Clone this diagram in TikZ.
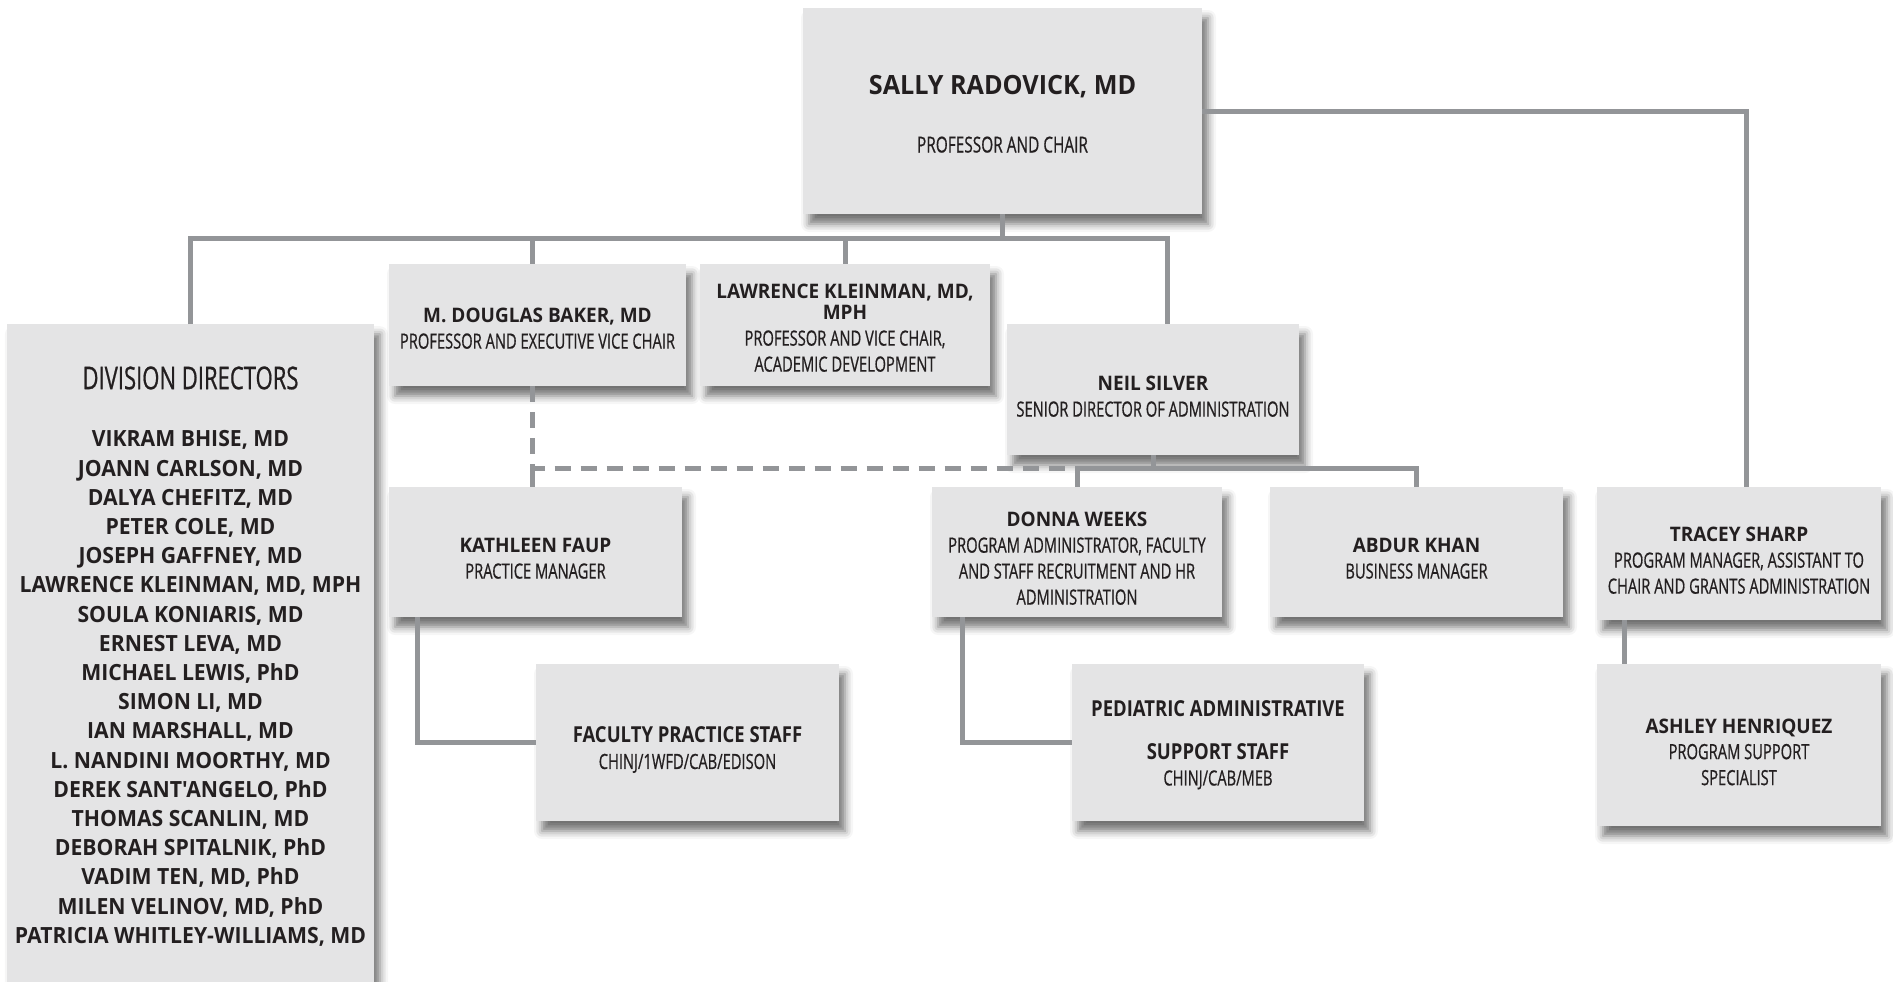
\documentclass[tikz,border=0pt]{standalone}
\usepackage{fontspec}
\setmainfont{Open Sans}
\newfontfamily\NameFont[FakeStretch=0.95]{Open Sans}
\newfontfamily\TitleFont[FakeStretch=0.70,FakeBold=0.6]{Open Sans}
\newfontfamily\CondBoldFont[FakeStretch=0.84]{Open Sans}
\usetikzlibrary{shadows.blur}
\definecolor{boxgray}{HTML}{E4E4E5}
\definecolor{linegray}{HTML}{939598}
\definecolor{ink}{HTML}{231F20}
\newcommand\OrgName[1]{{\NameFont\bfseries #1}}
\newcommand\OrgTitle[1]{{\TitleFont\fontsize{21}{26}\selectfont #1}}
\newcommand\OrgCB[1]{{\CondBoldFont\bfseries\fontsize{22}{26}\selectfont #1}}
\tikzset{
  box/.style={fill=boxgray, inner sep=0pt,
    blur shadow={shadow xshift=6pt, shadow yshift=-10pt, shadow blur radius=8pt, shadow opacity=55}},
  boxtext/.style={inner sep=0pt, align=center, text=ink, font=\fontsize{20}{26}\selectfont},
  link/.style={draw=linegray, line width=5pt},
  dlink/.style={link, dash pattern=on 16pt off 10pt},
}
% \OrgBox{name}{x}{y}{width}{height}{text shift}{text}
\newcommand\OrgBox[7]{%
  \node[box, minimum width=#4pt, minimum height=#5pt] (#1) at (#2,#3) {};
  \node[boxtext] (#1-t) at (#2,#3+#6) {#7};}
\begin{document}
\begin{tikzpicture}[x=1pt,y=-1pt]
\useasboundingbox (0,0) rectangle (1893,982);
% boxes
\OrgBox{sally}{1002.5}{111}{399}{206}{3}
  {\OrgName{\fontsize{26.5}{30}\selectfont SALLY RADOVICK, MD}\\[32pt]
   \OrgTitle{\fontsize{22}{26}\selectfont PROFESSOR AND CHAIR}}
\node[box, minimum width=367pt, minimum height=680pt, anchor=north] (div) at (190.5,324) {};
\node[text=ink, align=center, font=\fontsize{22.3}{29.2}\selectfont] (divtext) at (190.5,656.3)
  {{\TitleFont\fontsize{31.5}{36}\selectfont DIVISION DIRECTORS}\\[28.5pt]
   \OrgName{VIKRAM BHISE, MD}\\
   \OrgName{JOANN CARLSON, MD}\\
   \OrgName{DALYA CHEFITZ, MD}\\
   \OrgName{PETER COLE, MD}\\
   \OrgName{JOSEPH GAFFNEY, MD}\\
   \OrgName{LAWRENCE KLEINMAN, MD, MPH}\\
   \OrgName{SOULA KONIARIS, MD}\\
   \OrgName{ERNEST LEVA, MD}\\
   \OrgName{MICHAEL LEWIS, PhD}\\
   \OrgName{SIMON LI, MD}\\
   \OrgName{IAN MARSHALL, MD}\\
   \OrgName{L. NANDINI MOORTHY, MD}\\
   \OrgName{DEREK SANT'ANGELO, PhD}\\
   \OrgName{THOMAS SCANLIN, MD}\\
   \OrgName{DEBORAH SPITALNIK, PhD}\\
   \OrgName{VADIM TEN, MD, PhD}\\
   \OrgName{MILEN VELINOV, MD, PhD}\\
   \OrgName{PATRICIA WHITLEY-WILLIAMS, MD}};
\OrgBox{baker}{537.5}{325}{297}{122}{3.5}
  {\OrgName{M. DOUGLAS BAKER, MD}\\ \OrgTitle{PROFESSOR AND EXECUTIVE VICE CHAIR}}
\OrgBox{lawr}{845}{325}{290}{122}{3}
  {\OrgName{LAWRENCE KLEINMAN, MD,}\\[-5pt] \OrgName{MPH}\\ \OrgTitle{PROFESSOR AND VICE CHAIR,}\\ \OrgTitle{ACADEMIC DEVELOPMENT}}
\OrgBox{neil}{1153}{389.5}{292}{131}{7}
  {\OrgName{NEIL SILVER}\\ \OrgTitle{SENIOR DIRECTOR OF ADMINISTRATION}}
\OrgBox{kath}{535.5}{552}{293}{130}{6.5}
  {\OrgName{KATHLEEN FAUP}\\ \OrgTitle{PRACTICE MANAGER}}
\OrgBox{donna}{1077}{552}{290}{130}{6.5}
  {\OrgName{DONNA WEEKS}\\ \OrgTitle{PROGRAM ADMINISTRATOR, FACULTY}\\ \OrgTitle{AND STAFF RECRUITMENT AND HR}\\ \OrgTitle{ADMINISTRATION}}
\OrgBox{abdur}{1416.5}{552}{293}{130}{6.5}
  {\OrgName{ABDUR KHAN}\\ \OrgTitle{BUSINESS MANAGER}}
\OrgBox{tracey}{1739}{553.5}{284}{133}{7}
  {\OrgName{TRACEY SHARP}\\ \OrgTitle{PROGRAM MANAGER, ASSISTANT TO}\\ \OrgTitle{CHAIR AND GRANTS ADMINISTRATION}}
\OrgBox{fps}{687.5}{742.5}{303}{157}{7.5}
  {\OrgCB{FACULTY PRACTICE STAFF}\\ \OrgTitle{CHINJ/1WFD/CAB/EDISON}}
\OrgBox{ped}{1218}{742.5}{292}{157}{2.5}
  {\OrgCB{PEDIATRIC ADMINISTRATIVE}\\[17pt] \OrgCB{SUPPORT STAFF}\\ \OrgTitle{CHINJ/CAB/MEB}}
\OrgBox{ashley}{1739}{745}{284}{162}{7}
  {\OrgName{ASHLEY HENRIQUEZ}\\ \OrgTitle{PROGRAM SUPPORT}\\ \OrgTitle{SPECIALIST}}
% connectors
\coordinate (bus) at (0,238);
\coordinate (nbus) at (0,468);
\draw[link] (sally.south) -- (sally.south |- bus);
\draw[link] (div.north) -- (div.north |- bus) -- ([xshift=14pt]neil.north |- bus) -- ([xshift=14pt]neil.north);
\draw[link] ([xshift=-5pt]baker.north) -- ([xshift=-5pt]baker.north |- bus);
\draw[link] (lawr.north) -- (lawr.north |- bus);
\draw[link] (sally.east) -| ([xshift=7pt]tracey.north);
\draw[link] (neil.south) -- (neil.south |- nbus);
\draw[link] (donna.north) -- (donna.north |- nbus) -| (abdur.north);
\draw[dlink] ([xshift=-5pt]baker.south) |- ([xshift=-8pt]donna.north |- nbus);
\draw[link] ([xshift=-5pt]baker.south |- nbus) -- ([xshift=-5pt]baker.south |- kath.north);
\draw[link] ([xshift=-118pt]kath.south) |- (fps.west);
\draw[link] ([xshift=-115pt]donna.south) |- (ped.west);
\draw[link] ([xshift=-115pt]tracey.south) -- ([xshift=-115pt]ashley.north);
\end{tikzpicture}
\end{document}
